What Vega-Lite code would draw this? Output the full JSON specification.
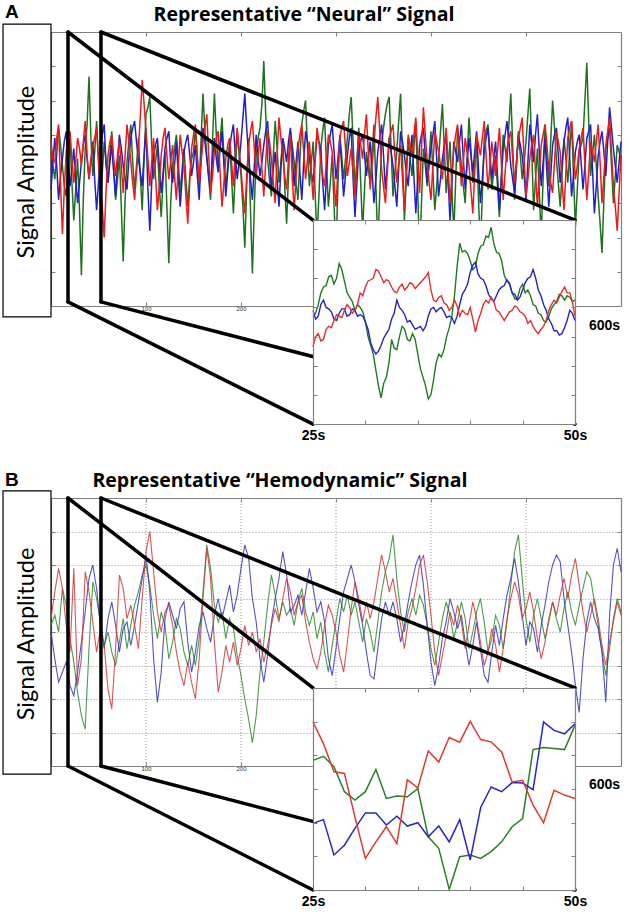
{
"$schema":"https://vega.github.io/schema/vega-lite/v6.json",
"width":630,"height":915,"autosize":"none","padding":0,"background":"white",
"config":{"view":{"stroke":null},"font":"Lato","axis":{"grid":false,"labels":false,"domainColor":"#808080","tickColor":"#808080","domainWidth":1.2,"tickWidth":1,"tickSize":-4,"labelFlush":false,"labelOverlap":false}},
"datasets":{
"mainA":[
{"t":0,"r":0.8,"g":0.5,"b":-0.6},{"t":4,"r":0.2,"g":-0.3,"b":0.9},{"t":8,"r":1.3,"g":1.2,"b":-0.9},{"t":12,"r":-1.9,"g":0.1,"b":0.3},{"t":16,"r":0.5,"g":-0.8,"b":1.1},{"t":20,"r":1.1,"g":0.9,"b":-0.5},{"t":24,"r":-0.4,"g":-1.5,"b":0.6},{"t":28,"r":0.9,"g":0.3,"b":-1.0},{"t":32,"r":0.1,"g":-3.1,"b":0.2},{"t":36,"r":1.4,"g":0.6,"b":1.0},
{"t":40,"r":-0.3,"g":2.7,"b":-0.3},{"t":44,"r":0.7,"g":-0.2,"b":0.8},{"t":48,"r":1.2,"g":1.4,"b":-1.2},{"t":52,"r":-0.6,"g":-1.0,"b":0.5},{"t":56,"r":-2.0,"g":0.8,"b":1.3},{"t":60,"r":0.4,"g":-0.4,"b":-0.4},{"t":64,"r":1.0,"g":1.1,"b":0.7},{"t":68,"r":-0.2,"g":-0.9,"b":-0.8},{"t":72,"r":0.8,"g":0.4,"b":1.0},{"t":76,"r":-0.7,"g":-2.7,"b":0.1},
{"t":80,"r":1.3,"g":0.2,"b":-0.6},{"t":84,"r":0.2,"g":1.3,"b":0.9},{"t":88,"r":-0.9,"g":-0.6,"b":1.4},{"t":92,"r":0.6,"g":0.9,"b":0.3},{"t":96,"r":2.6,"g":-1.2,"b":-0.5},{"t":100,"r":1.1,"g":1.6,"b":1.2},{"t":104,"r":-0.5,"g":2.1,"b":-1.8},{"t":108,"r":0.9,"g":-0.3,"b":0.4},{"t":112,"r":-1.2,"g":0.7,"b":0.9},{"t":116,"r":0.4,"g":-1.4,"b":-0.7},
{"t":120,"r":1.2,"g":0.5,"b":0.6},{"t":124,"r":-0.3,"g":-2.75,"b":1.1},{"t":128,"r":0.7,"g":0.1,"b":-0.4},{"t":132,"r":-0.9,"g":1.0,"b":0.8},{"t":136,"r":1.0,"g":-0.7,"b":-1.1},{"t":140,"r":0.1,"g":0.6,"b":0.5},{"t":144,"r":-1.6,"g":-1.1,"b":1.0},{"t":148,"r":0.6,"g":0.3,"b":-0.2},{"t":152,"r":1.3,"g":1.2,"b":0.7},{"t":156,"r":-0.4,"g":-0.5,"b":-0.9},
{"t":160,"r":0.8,"g":2.2,"b":1.2},{"t":164,"r":1.6,"g":0.4,"b":0.3},{"t":168,"r":-0.7,"g":-0.9,"b":-0.6},{"t":172,"r":0.5,"g":2.2,"b":0.9},{"t":176,"r":1.1,"g":0.0,"b":-0.1},{"t":180,"r":-1.1,"g":1.5,"b":1.1},{"t":184,"r":0.3,"g":-0.6,"b":-0.8},{"t":188,"r":0.9,"g":0.8,"b":0.6},{"t":192,"r":-0.5,"g":-1.3,"b":1.3},{"t":196,"r":1.2,"g":1.1,"b":-0.3},
{"t":200,"r":0.0,"g":-0.2,"b":0.8},{"t":204,"r":-1.3,"g":-2.3,"b":2.2},{"t":208,"r":0.7,"g":0.9,"b":0.4},{"t":212,"r":1.4,"g":-3.05,"b":-0.9},{"t":216,"r":-0.2,"g":0.4,"b":1.0},{"t":220,"r":0.9,"g":1.2,"b":-0.2},{"t":224,"r":-0.8,"g":3.15,"b":0.7},{"t":228,"r":1.1,"g":0.3,"b":1.4},{"t":232,"r":0.3,"g":-0.8,"b":-0.6},{"t":236,"r":-1.0,"g":1.4,"b":0.5},
{"t":240,"r":1.5,"g":-0.4,"b":-1.1},{"t":244,"r":0.4,"g":0.9,"b":0.9},{"t":248,"r":-0.6,"g":-1.6,"b":0.2},{"t":252,"r":1.0,"g":1.1,"b":1.2},{"t":256,"r":-1.2,"g":0.2,"b":-0.5},{"t":260,"r":0.6,"g":-0.9,"b":0.8},{"t":264,"r":1.3,"g":1.3,"b":-0.9},{"t":268,"r":-0.3,"g":2.0,"b":1.1},{"t":272,"r":0.8,"g":-0.5,"b":0.3},{"t":276,"r":-0.9,"g":0.8,"b":-0.4},
{"t":280,"r":1.2,"g":-2.0,"b":1.0},{"t":284,"r":0.2,"g":0.6,"b":0.6},{"t":288,"r":-0.5,"g":1.5,"b":-1.2},{"t":292,"r":1.0,"g":-1.1,"b":0.7},{"t":296,"r":0.5,"g":0.4,"b":1.3},{"t":300,"r":-1.1,"g":-2.4,"b":-0.3},{"t":304,"r":0.9,"g":1.0,"b":0.9},{"t":308,"r":1.4,"g":-0.3,"b":-0.8},{"t":312,"r":-0.2,"g":0.9,"b":0.4},{"t":316,"r":0.6,"g":2.1,"b":1.2},
{"t":320,"r":-0.8,"g":-0.6,"b":-1.4},{"t":324,"r":1.1,"g":1.2,"b":0.6},{"t":328,"r":0.3,"g":-1.8,"b":1.0},{"t":332,"r":1.6,"g":0.5,"b":-0.2},{"t":336,"r":-0.6,"g":-0.4,"b":0.8},{"t":340,"r":0.8,"g":1.3,"b":-1.0},{"t":344,"r":2.1,"g":-2.2,"b":0.5},{"t":348,"r":0.0,"g":0.7,"b":1.3},{"t":352,"r":-1.0,"g":1.6,"b":-0.6},{"t":356,"r":0.9,"g":2.1,"b":0.9},
{"t":360,"r":1.3,"g":-0.8,"b":0.1},{"t":364,"r":-0.4,"g":0.5,"b":-1.1},{"t":368,"r":0.7,"g":2.2,"b":1.1},{"t":372,"r":-1.2,"g":-1.5,"b":0.4},{"t":376,"r":1.0,"g":0.9,"b":-0.5},{"t":380,"r":0.4,"g":-0.2,"b":1.0},{"t":384,"r":1.5,"g":1.4,"b":-1.3},{"t":388,"r":-0.7,"g":-2.6,"b":0.7},{"t":392,"r":1.8,"g":0.6,"b":1.2},{"t":396,"r":0.2,"g":-0.5,"b":-0.4},
{"t":400,"r":-0.9,"g":1.1,"b":0.6},{"t":404,"r":1.1,"g":-1.2,"b":1.4},{"t":408,"r":0.5,"g":0.3,"b":-0.8},{"t":412,"r":-0.3,"g":1.9,"b":0.3},{"t":416,"r":1.2,"g":-0.7,"b":1.0},{"t":420,"r":-1.0,"g":0.8,"b":-1.5},{"t":424,"r":0.6,"g":-1.9,"b":0.8},{"t":428,"r":1.3,"g":1.2,"b":0.2},{"t":432,"r":-0.5,"g":0.1,"b":1.3},{"t":436,"r":0.9,"g":-1.0,"b":-0.6},
{"t":440,"r":0.1,"g":1.5,"b":0.9},{"t":444,"r":-1.3,"g":-0.4,"b":-0.1},{"t":448,"r":1.0,"g":0.7,"b":1.1},{"t":452,"r":0.4,"g":-2.3,"b":-1.0},{"t":456,"r":1.4,"g":0.9,"b":0.5},{"t":460,"r":-0.6,"g":1.3,"b":1.2},{"t":464,"r":0.8,"g":-0.6,"b":-0.3},{"t":468,"r":-0.2,"g":0.4,"b":0.8},{"t":472,"r":1.2,"g":-1.4,"b":-1.2},{"t":476,"r":-0.9,"g":1.0,"b":0.6},
{"t":480,"r":0.6,"g":0.2,"b":1.4},{"t":484,"r":1.1,"g":2.2,"b":0.1},{"t":488,"r":-0.4,"g":-0.9,"b":-0.7},{"t":492,"r":0.9,"g":1.1,"b":1.0},{"t":496,"r":1.5,"g":-0.3,"b":0.4},{"t":500,"r":-0.8,"g":0.8,"b":-0.9},{"t":504,"r":0.3,"g":2.35,"b":1.3},{"t":508,"r":1.0,"g":-1.2,"b":0.2},{"t":512,"r":-1.1,"g":0.6,"b":1.6},{"t":516,"r":0.7,"g":-2.0,"b":-0.5},
{"t":520,"r":1.3,"g":1.3,"b":0.9},{"t":524,"r":0.0,"g":-0.5,"b":-1.1},{"t":528,"r":-0.7,"g":2.0,"b":0.7},{"t":532,"r":1.1,"g":0.3,"b":1.2},{"t":536,"r":0.5,"g":-1.1,"b":-0.4},{"t":540,"r":-1.2,"g":0.9,"b":0.8},{"t":544,"r":0.9,"g":-0.4,"b":1.5},{"t":548,"r":1.4,"g":1.4,"b":-0.8},{"t":552,"r":-0.3,"g":-1.7,"b":0.5},{"t":556,"r":0.6,"g":0.5,"b":1.0},
{"t":560,"r":1.2,"g":0.9,"b":-0.6},{"t":564,"r":-0.9,"g":3.1,"b":0.9},{"t":568,"r":0.8,"g":-0.2,"b":1.3},{"t":572,"r":0.2,"g":1.0,"b":-1.3},{"t":576,"r":1.3,"g":-0.8,"b":0.4},{"t":580,"r":-1.0,"g":-2.45,"b":1.1},{"t":584,"r":0.7,"g":0.6,"b":-0.2},{"t":588,"r":1.5,"g":1.2,"b":1.8},{"t":592,"r":-0.5,"g":-1.0,"b":0.6},{"t":596,"r":-1.8,"g":0.7,"b":-0.4},
{"t":600,"r":0.4,"g":0.3,"b":0.8},
{"t":2,"r":0.3,"g":0.1,"b":0.2},{"t":6,"r":0.9,"g":0.4,"b":0.1},{"t":10,"r":-0.4,"g":0.7,"b":-0.2},{"t":14,"r":-0.6,"g":-0.5,"b":0.8},{"t":18,"r":0.9,"g":0.1,"b":0.2},{"t":22,"r":0.3,"g":-0.4,"b":0.0},{"t":26,"r":0.2,"g":-0.6,"b":-0.3},{"t":30,"r":0.6,"g":-1.2,"b":-0.4},{"t":34,"r":0.8,"g":-0.9,"b":0.7},{"t":38,"r":0.4,"g":1.3,"b":0.3},
{"t":42,"r":0.3,"g":0.9,"b":0.2},{"t":46,"r":0.9,"g":0.5,"b":-0.3},{"t":50,"r":0.2,"g":0.3,"b":-0.4},{"t":54,"r":-1.1,"g":-0.1,"b":1.0},{"t":58,"r":-0.6,"g":0.2,"b":0.1},{"t":62,"r":0.8,"g":0.4,"b":0.2},{"t":66,"r":0.3,"g":0.0,"b":-0.1},{"t":70,"r":0.4,"g":-0.3,"b":0.2},{"t":74,"r":0.1,"g":-1.1,"b":0.6},{"t":78,"r":0.4,"g":-0.9,"b":-0.3},
{"t":82,"r":0.8,"g":0.8,"b":0.3},{"t":86,"r":-0.4,"g":0.2,"b":1.2},{"t":90,"r":-0.1,"g":0.1,"b":0.8},{"t":94,"r":1.5,"g":-0.2,"b":-0.1},{"t":98,"r":1.9,"g":0.3,"b":0.4},{"t":102,"r":0.3,"g":1.8,"b":-0.6},{"t":106,"r":0.2,"g":0.7,"b":-0.4},{"t":110,"r":-0.2,"g":0.2,"b":0.7},{"t":114,"r":-0.5,"g":-0.5,"b":0.1},{"t":118,"r":0.9,"g":-0.3,"b":-0.1},
{"t":122,"r":0.4,"g":-1.1,"b":0.9},{"t":126,"r":0.2,"g":-1.0,"b":0.2},{"t":130,"r":-0.2,"g":0.6,"b":0.1},{"t":134,"r":0.1,"g":0.2,"b":-0.2},{"t":138,"r":0.5,"g":0.0,"b":-0.3},{"t":142,"r":-0.8,"g":-0.3,"b":0.8},{"t":146,"r":-0.4,"g":-0.2,"b":0.4},{"t":150,"r":1.0,"g":0.5,"b":0.2},{"t":154,"r":0.3,"g":0.4,"b":-0.2},{"t":158,"r":0.2,"g":0.9,"b":0.3},
{"t":162,"r":1.2,"g":1.1,"b":0.8},{"t":166,"r":0.4,"g":-0.3,"b":-0.2},{"t":170,"r":-0.2,"g":0.8,"b":0.3},{"t":174,"r":0.9,"g":1.0,"b":0.3},{"t":178,"r":-0.1,"g":0.8,"b":0.6},{"t":182,"r":-0.4,"g":0.4,"b":0.1},{"t":186,"r":0.7,"g":0.1,"b":-0.1},{"t":190,"r":0.2,"g":-0.2,"b":1.0},{"t":194,"r":0.5,"g":-0.1,"b":0.4},{"t":198,"r":0.6,"g":0.4,"b":0.2},
{"t":202,"r":-0.7,"g":-1.1,"b":1.5},{"t":206,"r":-0.2,"g":-0.5,"b":1.2},{"t":210,"r":1.1,"g":-1.2,"b":-0.3},{"t":214,"r":0.6,"g":-1.1,"b":0.1},{"t":218,"r":0.4,"g":0.9,"b":0.3},{"t":222,"r":0.0,"g":1.9,"b":0.2},{"t":226,"r":0.2,"g":1.6,"b":1.1},{"t":230,"r":0.8,"g":-0.3,"b":0.4},{"t":234,"r":-0.4,"g":0.4,"b":0.0},{"t":238,"r":0.4,"g":0.6,"b":-0.3},
{"t":242,"r":0.9,"g":0.2,"b":0.0},{"t":246,"r":-0.2,"g":-0.5,"b":0.6},{"t":250,"r":0.3,"g":-0.2,"b":0.8},{"t":254,"r":-0.3,"g":0.7,"b":0.4},{"t":258,"r":-0.2,"g":-0.4,"b":0.2},{"t":262,"r":1.0,"g":0.3,"b":-0.1},{"t":266,"r":0.5,"g":1.7,"b":0.2},{"t":270,"r":0.3,"g":0.6,"b":0.8},{"t":274,"r":-0.1,"g":0.2,"b":-0.1},{"t":278,"r":0.2,"g":-0.7,"b":0.3},
{"t":282,"r":0.8,"g":-0.8,"b":0.8},{"t":286,"r":-0.2,"g":1.1,"b":-0.4},{"t":290,"r":0.3,"g":0.1,"b":-0.2},{"t":294,"r":0.8,"g":-0.4,"b":1.0},{"t":298,"r":-0.4,"g":-1.1,"b":0.5},{"t":302,"r":0.0,"g":-0.5,"b":0.3},{"t":306,"r":1.2,"g":0.4,"b":0.1},{"t":310,"r":0.6,"g":0.3,"b":-0.2},{"t":314,"r":0.2,"g":1.6,"b":0.9},{"t":318,"r":-0.1,"g":0.8,"b":-0.3},
{"t":322,"r":0.2,"g":0.2,"b":-0.4},{"t":326,"r":0.7,"g":-0.4,"b":0.8},{"t":330,"r":1.0,"g":-0.6,"b":0.4},{"t":334,"r":0.5,"g":0.0,"b":0.3},{"t":338,"r":0.1,"g":0.5,"b":-0.1},{"t":342,"r":1.5,"g":-0.5,"b":-0.3},{"t":346,"r":1.1,"g":-0.8,"b":0.9},{"t":350,"r":-0.5,"g":1.2,"b":0.4},{"t":354,"r":-0.1,"g":1.9,"b":0.1},{"t":358,"r":1.1,"g":0.6,"b":0.5},
{"t":362,"r":0.4,"g":-0.1,"b":-0.5},{"t":366,"r":0.2,"g":1.4,"b":0.0},{"t":370,"r":-0.3,"g":0.3,"b":0.8},{"t":374,"r":-0.1,"g":-0.3,"b":-0.1},{"t":378,"r":0.7,"g":0.3,"b":0.3},{"t":382,"r":1.0,"g":0.6,"b":-0.2},{"t":386,"r":0.4,"g":-0.6,"b":-0.3},{"t":390,"r":0.6,"g":-1.0,"b":1.0},{"t":394,"r":1.0,"g":0.1,"b":0.4},{"t":398,"r":-0.4,"g":0.3,"b":0.1},
{"t":402,"r":0.1,"g":-0.1,"b":1.0},{"t":406,"r":0.8,"g":-0.5,"b":0.3},{"t":410,"r":0.1,"g":1.1,"b":-0.3},{"t":414,"r":0.5,"g":0.6,"b":0.7},{"t":418,"r":0.1,"g":0.0,"b":-0.3},{"t":422,"r":-0.2,"g":-0.6,"b":-0.4},{"t":426,"r":1.0,"g":-0.3,"b":0.5},{"t":430,"r":0.4,"g":0.7,"b":0.8},{"t":434,"r":0.2,"g":-0.5,"b":0.3},{"t":438,"r":0.5,"g":0.3,"b":0.2},
{"t":442,"r":-0.6,"g":0.6,"b":0.4},{"t":446,"r":-0.1,"g":0.1,"b":0.5},{"t":450,"r":0.7,"g":-0.9,"b":0.0},{"t":454,"r":0.9,"g":-0.8,"b":-0.3},{"t":458,"r":0.4,"g":1.1,"b":0.9},{"t":462,"r":0.1,"g":0.4,"b":0.4},{"t":466,"r":0.3,"g":-0.1,"b":0.3},{"t":470,"r":0.5,"g":-0.5,"b":-0.2},{"t":474,"r":0.2,"g":-0.2,"b":-0.3},{"t":478,"r":-0.1,"g":0.6,"b":1.0},
{"t":482,"r":0.9,"g":1.3,"b":0.8},{"t":486,"r":0.3,"g":0.7,"b":-0.3},{"t":490,"r":0.2,"g":0.1,"b":0.2},{"t":494,"r":1.2,"g":0.4,"b":0.7},{"t":498,"r":0.3,"g":0.2,"b":-0.2},{"t":502,"r":-0.3,"g":1.6,"b":0.2},{"t":506,"r":0.7,"g":0.6,"b":0.8},{"t":510,"r":-0.1,"g":-0.3,"b":1.0},{"t":514,"r":-0.2,"g":-0.7,"b":0.5},{"t":518,"r":1.0,"g":-0.3,"b":0.2},
{"t":522,"r":0.7,"g":0.4,"b":-0.1},{"t":526,"r":-0.4,"g":0.8,"b":-0.2},{"t":530,"r":0.2,"g":1.2,"b":1.0},{"t":534,"r":0.8,"g":-0.4,"b":0.4},{"t":538,"r":-0.4,"g":-0.1,"b":0.2},{"t":542,"r":-0.1,"g":0.3,"b":1.2},{"t":546,"r":1.2,"g":0.5,"b":0.3},{"t":550,"r":0.5,"g":-0.2,"b":-0.2},{"t":554,"r":0.1,"g":-0.6,"b":0.8},{"t":558,"r":0.9,"g":0.7,"b":0.2},
{"t":562,"r":0.2,"g":2.0,"b":0.1},{"t":566,"r":-0.1,"g":1.4,"b":1.1},{"t":570,"r":0.5,"g":0.4,"b":0.0},{"t":574,"r":0.8,"g":0.1,"b":-0.5},{"t":578,"r":0.2,"g":-1.6,"b":0.8},{"t":582,"r":-0.2,"g":-0.9,"b":0.5},{"t":586,"r":1.1,"g":0.9,"b":0.8},{"t":590,"r":0.5,"g":0.1,"b":1.2},{"t":594,"r":-1.1,"g":-0.2,"b":0.1},{"t":598,"r":-0.7,"g":0.5,"b":0.2}],
"mainB":[
{"t":0,"r":0.4,"g":0.2,"b":0.0},{"t":4,"r":1.2,"g":0.5,"b":-0.8},{"t":8,"r":1.9,"g":0.0,"b":-1.5},{"t":12,"r":1.3,"g":1.3,"b":-1.2},{"t":16,"r":0.2,"g":0.8,"b":-0.9},{"t":20,"r":-0.6,"g":-0.2,"b":-1.6},{"t":24,"r":1.9,"g":-0.9,"b":-1.9},{"t":28,"r":-1.6,"g":-1.8,"b":-1.2},{"t":32,"r":-0.8,"g":-2.5,"b":-0.3},{"t":36,"r":1.8,"g":-2.9,"b":0.6},
{"t":40,"r":1.2,"g":-0.5,"b":1.6},{"t":44,"r":0.3,"g":1.5,"b":2.0},{"t":48,"r":-0.6,"g":1.0,"b":1.3},{"t":52,"r":0.1,"g":0.3,"b":0.2},{"t":56,"r":-0.4,"g":-0.4,"b":-0.5},{"t":60,"r":-1.7,"g":0.0,"b":0.4},{"t":64,"r":-2.3,"g":-0.6,"b":0.9},{"t":68,"r":-0.5,"g":-1.0,"b":0.2},{"t":72,"r":1.7,"g":-0.3,"b":-0.6},{"t":76,"r":1.3,"g":0.4,"b":0.1},
{"t":80,"r":0.4,"g":-0.5,"b":0.3},{"t":84,"r":0.8,"g":0.2,"b":-0.4},{"t":88,"r":0.2,"g":0.8,"b":0.2},{"t":92,"r":-0.5,"g":1.2,"b":0.9},{"t":96,"r":1.0,"g":1.7,"b":1.6},{"t":100,"r":2.4,"g":2.0,"b":2.3},{"t":104,"r":3.0,"g":1.4,"b":1.2},{"t":108,"r":1.8,"g":0.5,"b":-0.8},{"t":112,"r":0.6,"g":-0.2,"b":-2.1},{"t":116,"r":0.0,"g":0.6,"b":-1.2},
{"t":120,"r":0.6,"g":0.2,"b":0.4},{"t":124,"r":0.8,"g":-0.8,"b":0.9},{"t":128,"r":0.2,"g":-0.3,"b":0.5},{"t":132,"r":-0.6,"g":0.4,"b":0.1},{"t":136,"r":-1.2,"g":0.1,"b":0.7},{"t":140,"r":-1.6,"g":-0.6,"b":0.9},{"t":144,"r":-0.9,"g":-1.0,"b":-0.3},{"t":148,"r":-1.5,"g":-0.4,"b":-1.2},{"t":152,"r":-2.0,"g":-1.0,"b":-0.6},{"t":156,"r":-0.8,"g":-0.2,"b":0.2},
{"t":160,"r":1.0,"g":1.2,"b":0.6},{"t":164,"r":2.5,"g":2.6,"b":0.1},{"t":168,"r":1.6,"g":1.9,"b":-0.3},{"t":172,"r":-0.3,"g":0.8,"b":0.5},{"t":176,"r":-1.8,"g":0.3,"b":1.0},{"t":180,"r":-1.2,"g":0.6,"b":0.4},{"t":184,"r":-0.4,"g":-0.2,"b":0.9},{"t":188,"r":-0.9,"g":0.4,"b":1.4},{"t":192,"r":-0.3,"g":0.1,"b":0.6},{"t":196,"r":-1.0,"g":-0.7,"b":1.1},
{"t":200,"r":-0.5,"g":-1.3,"b":1.9},{"t":204,"r":0.2,"g":-2.0,"b":2.6},{"t":208,"r":-0.4,"g":-2.6,"b":2.2},{"t":212,"r":0.0,"g":-3.3,"b":1.0},{"t":216,"r":-0.6,"g":-2.5,"b":0.3},{"t":220,"r":-0.2,"g":-1.2,"b":-0.8},{"t":224,"r":-0.9,"g":-0.3,"b":-1.5},{"t":228,"r":-0.4,"g":0.8,"b":-0.7},{"t":232,"r":0.2,"g":1.7,"b":0.3},{"t":236,"r":0.7,"g":1.1,"b":1.0},
{"t":240,"r":0.3,"g":0.4,"b":1.6},{"t":244,"r":1.0,"g":0.9,"b":2.4},{"t":248,"r":1.6,"g":0.5,"b":1.7},{"t":252,"r":1.2,"g":0.7,"b":0.6},{"t":256,"r":0.5,"g":0.2,"b":0.8},{"t":260,"r":0.9,"g":0.9,"b":1.1},{"t":264,"r":1.1,"g":1.3,"b":0.5},{"t":268,"r":0.3,"g":0.6,"b":1.2},{"t":272,"r":-0.3,"g":0.2,"b":1.9},{"t":276,"r":-0.8,"g":0.6,"b":1.3},
{"t":280,"r":-1.1,"g":-0.2,"b":0.6},{"t":284,"r":-0.6,"g":0.3,"b":0.9},{"t":288,"r":0.2,"g":-0.6,"b":0.3},{"t":292,"r":0.8,"g":-1.2,"b":-0.8},{"t":296,"r":0.5,"g":-0.4,"b":-1.3},{"t":300,"r":0.0,"g":0.3,"b":-0.5},{"t":304,"r":-0.7,"g":1.0,"b":0.4},{"t":308,"r":-1.2,"g":0.6,"b":1.2},{"t":312,"r":-0.3,"g":1.1,"b":1.6},{"t":316,"r":0.7,"g":0.5,"b":2.0},
{"t":320,"r":1.5,"g":0.9,"b":1.5},{"t":324,"r":1.0,"g":0.3,"b":0.8},{"t":328,"r":0.3,"g":-0.3,"b":0.2},{"t":332,"r":0.9,"g":0.4,"b":-0.6},{"t":336,"r":0.4,"g":0.0,"b":-1.3},{"t":340,"r":0.9,"g":-0.6,"b":-1.4},{"t":344,"r":1.6,"g":0.3,"b":-0.5},{"t":348,"r":2.3,"g":1.2,"b":0.4},{"t":352,"r":1.8,"g":1.8,"b":0.9},{"t":356,"r":1.2,"g":2.2,"b":0.5},
{"t":360,"r":1.6,"g":2.9,"b":0.9},{"t":364,"r":0.9,"g":1.6,"b":0.4},{"t":368,"r":0.2,"g":0.6,"b":-0.3},{"t":372,"r":-0.5,"g":0.0,"b":0.2},{"t":376,"r":0.3,"g":0.6,"b":0.9},{"t":380,"r":0.7,"g":1.0,"b":1.5},{"t":384,"r":1.3,"g":0.5,"b":2.0},{"t":388,"r":2.0,"g":1.1,"b":2.3},{"t":392,"r":2.3,"g":0.8,"b":1.4},{"t":396,"r":1.5,"g":0.2,"b":0.2},
{"t":400,"r":0.5,"g":-0.5,"b":-0.9},{"t":404,"r":-0.6,"g":-1.0,"b":-1.6},{"t":408,"r":-1.3,"g":-0.3,"b":-1.0},{"t":412,"r":-0.7,"g":0.4,"b":-0.2},{"t":416,"r":-0.1,"g":0.9,"b":0.3},{"t":420,"r":0.6,"g":0.5,"b":1.0},{"t":424,"r":0.2,"g":-0.2,"b":0.6},{"t":428,"r":0.8,"g":0.3,"b":0.1},{"t":432,"r":0.3,"g":0.9,"b":0.5},{"t":436,"r":-0.5,"g":0.4,"b":-0.3},
{"t":440,"r":0.2,"g":-0.5,"b":-1.0},{"t":444,"r":0.9,"g":0.0,"b":-0.4},{"t":448,"r":0.4,"g":0.6,"b":0.3},{"t":452,"r":-0.3,"g":1.0,"b":-0.5},{"t":456,"r":-1.0,"g":0.3,"b":-1.3},{"t":460,"r":-0.6,"g":-0.6,"b":-1.5},{"t":464,"r":0.1,"g":-0.2,"b":-0.6},{"t":468,"r":-0.4,"g":0.5,"b":0.2},{"t":472,"r":-1.2,"g":0.2,"b":-0.4},{"t":476,"r":-0.5,"g":-0.5,"b":0.4},
{"t":480,"r":0.4,"g":0.3,"b":1.1},{"t":484,"r":1.0,"g":1.4,"b":1.6},{"t":488,"r":1.5,"g":2.4,"b":2.2},{"t":492,"r":1.1,"g":2.9,"b":1.5},{"t":496,"r":0.4,"g":1.6,"b":0.5},{"t":500,"r":0.7,"g":0.4,"b":-0.4},{"t":504,"r":1.2,"g":-0.3,"b":0.3},{"t":508,"r":0.6,"g":0.5,"b":0.1},{"t":512,"r":-0.2,"g":1.0,"b":-0.6},{"t":516,"r":-0.8,"g":0.4,"b":0.2},
{"t":520,"r":-0.3,"g":-0.2,"b":0.8},{"t":524,"r":0.4,"g":0.3,"b":1.5},{"t":528,"r":0.9,"g":0.9,"b":2.0},{"t":532,"r":0.5,"g":0.4,"b":2.3},{"t":536,"r":1.1,"g":0.0,"b":2.1},{"t":540,"r":1.6,"g":0.7,"b":1.0},{"t":544,"r":1.0,"g":1.2,"b":0.2},{"t":548,"r":1.7,"g":0.6,"b":-0.6},{"t":552,"r":2.2,"g":0.2,"b":-1.6},{"t":556,"r":1.4,"g":0.8,"b":-2.4},
{"t":560,"r":0.6,"g":1.3,"b":-0.8},{"t":564,"r":0.0,"g":1.8,"b":0.3},{"t":568,"r":0.5,"g":1.6,"b":0.9},{"t":572,"r":1.0,"g":0.9,"b":0.4},{"t":576,"r":0.4,"g":0.2,"b":0.1},{"t":580,"r":-0.4,"g":-0.6,"b":-0.6},{"t":584,"r":-1.0,"g":-1.3,"b":-2.1},{"t":588,"r":-0.3,"g":-0.5,"b":0.5},{"t":592,"r":0.3,"g":0.4,"b":2.0},{"t":596,"r":0.9,"g":1.0,"b":2.5},
{"t":600,"r":0.5,"g":0.6,"b":1.8}],
"insetA":[
{"t":25,"r":2.65,"g":3.68,"b":3.9},{"t":25.5,"r":3.1,"g":4.1,"b":3.7},{"t":26,"r":2.9,"g":4.7,"b":4.25},{"t":26.5,"r":3.35,"g":5.05,"b":3.95},{"t":27,"r":3.55,"g":4.8,"b":3.6},{"t":27.5,"r":3.7,"g":5.5,"b":3.8},{"t":28,"r":3.9,"g":4.9,"b":3.95},{"t":28.5,"r":4.0,"g":4.35,"b":3.75},{"t":29,"r":3.9,"g":3.9,"b":3.9},{"t":29.5,"r":4.5,"g":4.0,"b":3.75},
{"t":30,"r":4.7,"g":3.5,"b":3.5},{"t":30.5,"r":4.95,"g":2.7,"b":2.8},{"t":31,"r":5.3,"g":1.85,"b":2.4},{"t":31.5,"r":5.05,"g":0.9,"b":2.7},{"t":32,"r":4.95,"g":1.6,"b":3.1},{"t":32.5,"r":4.7,"g":2.9,"b":3.6},{"t":33,"r":4.5,"g":2.55,"b":4.25},{"t":33.5,"r":4.8,"g":3.35,"b":3.9},{"t":34,"r":4.7,"g":2.9,"b":3.5},{"t":34.5,"r":4.8,"g":3.1,"b":3.4},
{"t":35,"r":4.75,"g":2.4,"b":3.3},{"t":35.5,"r":4.95,"g":1.6,"b":3.2},{"t":36,"r":5.2,"g":0.86,"b":3.7},{"t":36.5,"r":4.25,"g":1.5,"b":4.0},{"t":37,"r":4.35,"g":2.4,"b":3.95},{"t":37.5,"r":4.15,"g":2.55,"b":3.85},{"t":38,"r":3.9,"g":3.3,"b":3.7},{"t":38.5,"r":4.25,"g":4.4,"b":3.45},{"t":39,"r":3.7,"g":6.2,"b":4.1},{"t":39.5,"r":3.8,"g":5.95,"b":4.6},
{"t":40,"r":4.0,"g":5.6,"b":5.2},{"t":40.5,"r":3.15,"g":5.4,"b":5.55},{"t":41,"r":3.8,"g":6.1,"b":5.0},{"t":41.5,"r":4.25,"g":6.45,"b":4.75},{"t":42,"r":4.35,"g":6.75,"b":4.3},{"t":42.5,"r":3.9,"g":5.9,"b":4.4},{"t":43,"r":3.7,"g":5.6,"b":4.7},{"t":43.5,"r":3.7,"g":4.9,"b":4.95},{"t":44,"r":3.9,"g":4.5,"b":4.5},{"t":44.5,"r":4.0,"g":4.3,"b":4.25},
{"t":45,"r":3.8,"g":4.8,"b":4.6},{"t":45.5,"r":3.45,"g":4.6,"b":5.0},{"t":46,"r":3.35,"g":4.1,"b":5.3},{"t":46.5,"r":3.1,"g":3.8,"b":4.6},{"t":47,"r":3.35,"g":3.55,"b":4.1},{"t":47.5,"r":3.9,"g":3.7,"b":3.6},{"t":48,"r":4.25,"g":4.1,"b":3.2},{"t":48.5,"r":4.35,"g":4.45,"b":3.05},{"t":49,"r":4.7,"g":4.25,"b":3.3},{"t":49.5,"r":4.5,"g":4.35,"b":3.9},
{"t":50,"r":3.7,"g":4.25,"b":3.55},
{"t":25.25,"r":3.0,"g":3.8,"b":3.6},{"t":25.75,"r":2.85,"g":4.5,"b":4.1},{"t":26.25,"r":3.25,"g":4.75,"b":4.0},{"t":26.75,"r":3.3,"g":5.1,"b":3.85},{"t":27.25,"r":3.75,"g":5.0,"b":3.55},{"t":27.75,"r":3.65,"g":5.3,"b":3.95},{"t":28.25,"r":4.1,"g":4.5,"b":3.7},{"t":28.75,"r":3.8,"g":4.2,"b":3.95},{"t":29.25,"r":4.1,"g":4.1,"b":3.7},{"t":29.75,"r":4.4,"g":3.85,"b":3.7},
{"t":30.25,"r":4.9,"g":3.0,"b":3.25},{"t":30.75,"r":5.0,"g":2.4,"b":2.55},{"t":31.25,"r":5.25,"g":1.3,"b":2.5},{"t":31.75,"r":4.85,"g":1.4,"b":2.95},{"t":32.25,"r":4.9,"g":2.1,"b":3.25},{"t":32.75,"r":4.55,"g":2.6,"b":3.8},{"t":33.25,"r":4.7,"g":3.0,"b":4.0},{"t":33.75,"r":4.6,"g":3.25,"b":3.75},{"t":34.25,"r":4.85,"g":2.85,"b":3.55},{"t":34.75,"r":4.65,"g":2.9,"b":3.25},
{"t":35.25,"r":4.85,"g":1.9,"b":3.35},{"t":35.75,"r":5.05,"g":1.3,"b":3.35},{"t":36.25,"r":4.6,"g":1.0,"b":3.95},{"t":36.75,"r":4.2,"g":2.1,"b":3.85},{"t":37.25,"r":4.4,"g":2.3,"b":4.0},{"t":37.75,"r":4.1,"g":3.0,"b":3.65},{"t":38.25,"r":4.0,"g":3.7,"b":3.65},{"t":38.75,"r":4.05,"g":5.4,"b":3.7},{"t":39.25,"r":3.9,"g":5.9,"b":4.45},{"t":39.75,"r":3.75,"g":5.85,"b":4.8},
{"t":40.25,"r":3.6,"g":5.3,"b":5.45},{"t":40.75,"r":3.55,"g":5.85,"b":5.15},{"t":41.25,"r":4.1,"g":6.15,"b":4.95},{"t":41.75,"r":4.15,"g":6.4,"b":4.45},{"t":42.25,"r":4.2,"g":6.2,"b":4.2},{"t":42.75,"r":3.85,"g":5.85,"b":4.6},{"t":43.25,"r":3.55,"g":5.1,"b":4.75},{"t":43.75,"r":3.85,"g":4.85,"b":4.8},{"t":44.25,"r":4.05,"g":4.3,"b":4.45},{"t":44.75,"r":3.85,"g":4.65,"b":4.35},
{"t":45.25,"r":3.7,"g":4.5,"b":4.85},{"t":45.75,"r":3.55,"g":4.4,"b":5.05},{"t":46.25,"r":3.2,"g":4.05,"b":5.0},{"t":46.75,"r":3.25,"g":3.75,"b":4.4},{"t":47.25,"r":3.55,"g":3.5,"b":3.9},{"t":47.75,"r":4.1,"g":3.95,"b":3.45},{"t":48.25,"r":4.15,"g":4.2,"b":3.2},{"t":48.75,"r":4.55,"g":4.4,"b":3.1},{"t":49.25,"r":4.5,"g":4.4,"b":3.55},{"t":49.75,"r":4.2,"g":4.2,"b":3.8}],
"insetB":[
{"t":25,"r":4.99,"g":3.85,"b":1.98},{"t":26,"r":4.35,"g":3.97,"b":2.09},{"t":27,"r":3.51,"g":3.66,"b":1.04},{"t":28,"r":3.46,"g":2.92,"b":1.33},{"t":29,"r":2.17,"g":2.67,"b":1.83},{"t":30,"r":0.94,"g":2.92,"b":2.29},{"t":31,"r":1.43,"g":3.58,"b":2.29},{"t":32,"r":1.88,"g":2.72,"b":1.93},{"t":33,"r":1.38,"g":2.79,"b":2.19},{"t":34,"r":3.28,"g":2.77,"b":1.9},
{"t":35,"r":3.03,"g":3.01,"b":2.0},{"t":36,"r":4.13,"g":1.58,"b":1.58},{"t":37,"r":3.8,"g":1.24,"b":1.9},{"t":38,"r":4.53,"g":0.02,"b":1.43},{"t":39,"r":4.39,"g":0.99,"b":2.09},{"t":40,"r":5.01,"g":1.04,"b":0.89},{"t":41,"r":4.47,"g":0.94,"b":2.45},{"t":42,"r":4.4,"g":1.14,"b":3.06},{"t":43,"r":4.1,"g":1.43,"b":2.92},{"t":44,"r":3.21,"g":1.88,"b":3.19},
{"t":45,"r":3.26,"g":2.12,"b":3.18},{"t":46,"r":2.52,"g":4.17,"b":2.98},{"t":47,"r":2.0,"g":4.23,"b":4.99},{"t":48,"r":2.96,"g":4.2,"b":4.74},{"t":49,"r":2.82,"g":4.17,"b":4.64},{"t":50,"r":2.72,"g":4.89,"b":4.94}],
"gridX":[{"gx":100},{"gx":200},{"gx":300},{"gx":400},{"gx":500}]
},
"layer":[
{"layer":[
 {"data":{"values":[{}]},"mark":{"type":"rect","fill":"white","stroke":"black","strokeWidth":1.2},"encoding":{"x":{"datum":-50.5,"type":"quantitative","scale":{"domain":[0,600],"range":[51,621],"nice":false,"zero":false},"axis":null},"x2":{"datum":0},"y":{"datum":4.23,"type":"quantitative","scale":{"domain":[-4,4],"range":[306,32],"nice":false,"zero":false},"axis":null},"y2":{"datum":-4.32}}},
 {"data":{"values":[{"label":"Signal Amplitude"}]},"mark":{"type":"text","font":"Lato","fontSize":23.5,"angle":270,"align":"center","baseline":"middle","color":"black"},"encoding":{"text":{"field":"label"},"x":{"datum":-25.3,"type":"quantitative","scale":{"domain":[0,600],"range":[51,621],"nice":false,"zero":false},"axis":null},"y":{"datum":-0.09,"type":"quantitative","scale":{"domain":[-4,4],"range":[306,32],"nice":false,"zero":false},"axis":null}}},
 {"data":{"values":[{"label":"A"}]},"mark":{"type":"text","font":"Liberation Sans","fontWeight":"bold","fontSize":19,"align":"left","baseline":"alphabetic","color":"black"},"encoding":{"text":{"field":"label"},"x":{"datum":-48.4,"type":"quantitative","scale":{"domain":[0,600],"range":[51,621],"nice":false,"zero":false},"axis":null},"y":{"datum":4.41,"type":"quantitative","scale":{"domain":[-4,4],"range":[306,32],"nice":false,"zero":false},"axis":null}}},
 {"data":{"values":[{"label":"Representative “Neural” Signal"}]},"mark":{"type":"text","font":"Open Sans","fontWeight":"bold","fontSize":19.5,"align":"center","baseline":"middle","color":"black"},"encoding":{"text":{"field":"label"},"x":{"datum":266.3,"type":"quantitative","scale":{"domain":[0,600],"range":[51,621],"nice":false,"zero":false},"axis":null},"y":{"datum":4.51,"type":"quantitative","scale":{"domain":[-4,4],"range":[306,32],"nice":false,"zero":false},"axis":null}}},
 {"data":{"values":[{"label":"600s"}]},"mark":{"type":"text","font":"Liberation Sans","fontWeight":"bold","fontSize":14,"align":"right","baseline":"middle","color":"black"},"encoding":{"text":{"field":"label"},"x":{"datum":599,"type":"quantitative","scale":{"domain":[0,600],"range":[51,621],"nice":false,"zero":false},"axis":null},"y":{"datum":-4.58,"type":"quantitative","scale":{"domain":[-4,4],"range":[306,32],"nice":false,"zero":false},"axis":null}}},
 {"data":{"name":"mainA"},"mark":{"type":"line","color":"#1f701f","strokeWidth":1.5},"encoding":{"x":{"field":"t","type":"quantitative","scale":{"domain":[0,600],"range":[51,621],"nice":false,"zero":false},"axis":{"orient":"bottom","offset":-609,"title":null,"values":[100,200,300,400,500],"labels":true,"labelFontSize":6,"labelColor":"#333333","labelFont":"Liberation Sans","labelPadding":3}},"y":{"field":"g","type":"quantitative","scale":{"domain":[-4,4],"range":[306,32],"nice":false,"zero":false},"axis":{"orient":"left","offset":-51,"title":null,"values":[-3,-2,-1,0,1,2,3]}}}},
 {"data":{"name":"mainA"},"mark":{"type":"line","color":"#2020c8","strokeWidth":1.5},"encoding":{"x":{"field":"t","type":"quantitative","scale":{"domain":[0,600],"range":[51,621],"nice":false,"zero":false},"axis":null},"y":{"field":"b","type":"quantitative","scale":{"domain":[-4,4],"range":[306,32],"nice":false,"zero":false},"axis":null}}},
 {"data":{"name":"mainA"},"mark":{"type":"line","color":"#f01818","strokeWidth":1.5},"encoding":{"x":{"field":"t","type":"quantitative","scale":{"domain":[0,600],"range":[51,621],"nice":false,"zero":false},"axis":null},"y":{"field":"r","type":"quantitative","scale":{"domain":[-4,4],"range":[306,32],"nice":false,"zero":false},"axis":null}}},
 {"data":{"values":[{"t0":17.9,"a0":4,"t1":17.9,"a1":-3.88},{"t0":52.6,"a0":4,"t1":52.6,"a1":-3.88},{"t0":17.9,"a0":4,"t1":275.8,"a1":-1.49},{"t0":52.6,"a0":4,"t1":551.6,"a1":-1.49},{"t0":17.9,"a0":-3.88,"t1":275.8,"a1":-7.45},{"t0":52.6,"a0":-3.88,"t1":551.6,"a1":-7.45}]},"mark":{"type":"rule","color":"black","strokeWidth":3.5,"strokeCap":"round"},"encoding":{"x":{"field":"t0","type":"quantitative","scale":{"domain":[0,600],"range":[51,621],"nice":false,"zero":false},"axis":{"orient":"top","offset":-32,"title":null,"values":[100,200,300,400,500]}},"x2":{"field":"t1"},"y":{"field":"a0","type":"quantitative","scale":{"domain":[-4,4],"range":[306,32],"nice":false,"zero":false},"axis":{"orient":"right","offset":-9,"title":null,"values":[-3,-2,-1,0,1,2,3]}},"y2":{"field":"a1"}}}
],"resolve":{"axis":{"x":"independent","y":"independent"}}},
{"layer":[
 {"data":{"values":[{}]},"mark":{"type":"rect","fill":"white"},"encoding":{"x":{"datum":25,"type":"quantitative","scale":{"domain":[25,50],"range":[313,575],"nice":false,"zero":false},"axis":{"orient":"bottom","offset":-491,"title":null,"zindex":1,"values":[25,30,35,40,45,50],"labels":true,"labelExpr":"datum.value == 25 ? '25s' : (datum.value == 50 ? '50s' : '')","labelFontSize":14,"labelFontWeight":"bold","labelColor":"black","labelFont":"Liberation Sans","labelPadding":8}},"x2":{"datum":50},"y":{"datum":0,"type":"quantitative","scale":{"domain":[0,7],"range":[424,220],"nice":false,"zero":false},"axis":{"orient":"left","offset":-313,"title":null,"zindex":1,"values":[1,2,3,4,5,6]}},"y2":{"datum":7}}},
 {"data":{"name":"insetA"},"mark":{"type":"line","color":"#1f7a1f","strokeWidth":1.4},"encoding":{"x":{"field":"t","type":"quantitative","scale":{"domain":[25,50],"range":[313,575],"nice":false,"zero":false},"axis":null},"y":{"field":"g","type":"quantitative","scale":{"domain":[0,7],"range":[424,220],"nice":false,"zero":false},"axis":null}}},
 {"data":{"name":"insetA"},"mark":{"type":"line","color":"#2323c8","strokeWidth":1.4},"encoding":{"x":{"field":"t","type":"quantitative","scale":{"domain":[25,50],"range":[313,575],"nice":false,"zero":false},"axis":null},"y":{"field":"b","type":"quantitative","scale":{"domain":[0,7],"range":[424,220],"nice":false,"zero":false},"axis":null}}},
 {"data":{"name":"insetA"},"mark":{"type":"line","color":"#e03030","strokeWidth":1.4},"encoding":{"x":{"field":"t","type":"quantitative","scale":{"domain":[25,50],"range":[313,575],"nice":false,"zero":false},"axis":{"orient":"top","offset":-220,"title":null,"zindex":1,"values":[30,35,40,45]}},"y":{"field":"r","type":"quantitative","scale":{"domain":[0,7],"range":[424,220],"nice":false,"zero":false},"axis":{"orient":"right","offset":-55,"title":null,"zindex":1,"values":[1,2,3,4,5,6]}}}}
],"resolve":{"axis":{"x":"independent","y":"independent"}}},
{"layer":[
 {"data":{"values":[{}]},"mark":{"type":"rect","fill":"white","stroke":"black","strokeWidth":1.2},"encoding":{"x":{"datum":-50.5,"type":"quantitative","scale":{"domain":[0,600],"range":[51,621],"nice":false,"zero":false},"axis":null},"x2":{"datum":0},"y":{"datum":4.21,"type":"quantitative","scale":{"domain":[-4,4],"range":[766,498],"nice":false,"zero":false},"axis":null},"y2":{"datum":-4.24}}},
 {"data":{"values":[{"label":"Signal Amplitude"}]},"mark":{"type":"text","font":"Lato","fontSize":23.5,"angle":270,"align":"center","baseline":"middle","color":"black"},"encoding":{"text":{"field":"label"},"x":{"datum":-25.3,"type":"quantitative","scale":{"domain":[0,600],"range":[51,621],"nice":false,"zero":false},"axis":null},"y":{"datum":-0.06,"type":"quantitative","scale":{"domain":[-4,4],"range":[766,498],"nice":false,"zero":false},"axis":null}}},
 {"data":{"values":[{"label":"B"}]},"mark":{"type":"text","font":"Liberation Sans","fontWeight":"bold","fontSize":19,"align":"left","baseline":"alphabetic","color":"black"},"encoding":{"text":{"field":"label"},"x":{"datum":-48.4,"type":"quantitative","scale":{"domain":[0,600],"range":[51,621],"nice":false,"zero":false},"axis":null},"y":{"datum":4.36,"type":"quantitative","scale":{"domain":[-4,4],"range":[766,498],"nice":false,"zero":false},"axis":null}}},
 {"data":{"values":[{"label":"Representative “Hemodynamic” Signal"}]},"mark":{"type":"text","font":"Open Sans","fontWeight":"bold","fontSize":19.5,"align":"center","baseline":"middle","color":"black"},"encoding":{"text":{"field":"label"},"x":{"datum":241,"type":"quantitative","scale":{"domain":[0,600],"range":[51,621],"nice":false,"zero":false},"axis":null},"y":{"datum":4.51,"type":"quantitative","scale":{"domain":[-4,4],"range":[766,498],"nice":false,"zero":false},"axis":null}}},
 {"data":{"values":[{"label":"600s"}]},"mark":{"type":"text","font":"Liberation Sans","fontWeight":"bold","fontSize":14,"align":"right","baseline":"middle","color":"black"},"encoding":{"text":{"field":"label"},"x":{"datum":599,"type":"quantitative","scale":{"domain":[0,600],"range":[51,621],"nice":false,"zero":false},"axis":null},"y":{"datum":-4.56,"type":"quantitative","scale":{"domain":[-4,4],"range":[766,498],"nice":false,"zero":false},"axis":null}}},
 {"data":{"name":"gridX"},"mark":{"type":"rule","color":"#9a9a9a","strokeWidth":1,"strokeDash":[1,2]},"encoding":{"x":{"field":"gx","type":"quantitative","scale":{"domain":[0,600],"range":[51,621],"nice":false,"zero":false},"axis":null},"y":{"datum":-4,"type":"quantitative","scale":{"domain":[-4,4],"range":[766,498],"nice":false,"zero":false},"axis":null},"y2":{"datum":4}}},
 {"data":{"name":"mainB"},"mark":{"type":"line","color":"#2e8b2e","strokeWidth":1.1,"opacity":0.85},"encoding":{"x":{"field":"t","type":"quantitative","scale":{"domain":[0,600],"range":[51,621],"nice":false,"zero":false},"axis":{"orient":"bottom","offset":-149,"title":null,"values":[100,200,300,400,500],"labels":true,"labelFontSize":6,"labelColor":"#333333","labelFont":"Liberation Sans","labelPadding":3}},"y":{"field":"g","type":"quantitative","scale":{"domain":[-4,4],"range":[766,498],"nice":false,"zero":false},"axis":{"orient":"left","offset":-51,"title":null,"values":[-3,-2,-1,0,1,2,3],"grid":true,"gridDash":[1,2],"gridColor":"#9a9a9a"}}}},
 {"data":{"name":"mainB"},"mark":{"type":"line","color":"#3535bb","strokeWidth":1.1,"opacity":0.85},"encoding":{"x":{"field":"t","type":"quantitative","scale":{"domain":[0,600],"range":[51,621],"nice":false,"zero":false},"axis":null},"y":{"field":"b","type":"quantitative","scale":{"domain":[-4,4],"range":[766,498],"nice":false,"zero":false},"axis":null}}},
 {"data":{"name":"mainB"},"mark":{"type":"line","color":"#cc3838","strokeWidth":1.1,"opacity":0.85},"encoding":{"x":{"field":"t","type":"quantitative","scale":{"domain":[0,600],"range":[51,621],"nice":false,"zero":false},"axis":null},"y":{"field":"r","type":"quantitative","scale":{"domain":[-4,4],"range":[766,498],"nice":false,"zero":false},"axis":null}}},
 {"data":{"values":[{"t0":17.9,"a0":4,"t1":17.9,"a1":-4.0},{"t0":52.6,"a0":4,"t1":52.6,"a1":-4.0},{"t0":17.9,"a0":4,"t1":275.8,"a1":-1.67},{"t0":52.6,"a0":4,"t1":551.6,"a1":-1.67},{"t0":17.9,"a0":-4.0,"t1":275.8,"a1":-7.7},{"t0":52.6,"a0":-4.0,"t1":551.6,"a1":-7.7}]},"mark":{"type":"rule","color":"black","strokeWidth":3.5,"strokeCap":"round"},"encoding":{"x":{"field":"t0","type":"quantitative","scale":{"domain":[0,600],"range":[51,621],"nice":false,"zero":false},"axis":{"orient":"top","offset":-498,"title":null,"values":[100,200,300,400,500]}},"x2":{"field":"t1"},"y":{"field":"a0","type":"quantitative","scale":{"domain":[-4,4],"range":[766,498],"nice":false,"zero":false},"axis":{"orient":"right","offset":-9,"title":null,"values":[-3,-2,-1,0,1,2,3]}},"y2":{"field":"a1"}}}
],"resolve":{"axis":{"x":"independent","y":"independent"}}},
{"layer":[
 {"data":{"values":[{}]},"mark":{"type":"rect","fill":"white"},"encoding":{"x":{"datum":25,"type":"quantitative","scale":{"domain":[25,50],"range":[313,575],"nice":false,"zero":false},"axis":{"orient":"bottom","offset":-25,"title":null,"zindex":1,"values":[25,30,35,40,45,50],"labels":true,"labelExpr":"datum.value == 25 ? '25s' : (datum.value == 50 ? '50s' : '')","labelFontSize":14,"labelFontWeight":"bold","labelColor":"black","labelFont":"Liberation Sans","labelPadding":8}},"x2":{"datum":50},"y":{"datum":0,"type":"quantitative","scale":{"domain":[0,6],"range":[890,688],"nice":false,"zero":false},"axis":{"orient":"left","offset":-313,"title":null,"zindex":1,"values":[1,2,3,4,5]}},"y2":{"datum":6}}},
 {"data":{"name":"insetB"},"mark":{"type":"line","color":"#268026","strokeWidth":1.5},"encoding":{"x":{"field":"t","type":"quantitative","scale":{"domain":[25,50],"range":[313,575],"nice":false,"zero":false},"axis":null},"y":{"field":"g","type":"quantitative","scale":{"domain":[0,6],"range":[890,688],"nice":false,"zero":false},"axis":null}}},
 {"data":{"name":"insetB"},"mark":{"type":"line","color":"#2626cc","strokeWidth":1.5},"encoding":{"x":{"field":"t","type":"quantitative","scale":{"domain":[25,50],"range":[313,575],"nice":false,"zero":false},"axis":null},"y":{"field":"b","type":"quantitative","scale":{"domain":[0,6],"range":[890,688],"nice":false,"zero":false},"axis":null}}},
 {"data":{"name":"insetB"},"mark":{"type":"line","color":"#e03a2f","strokeWidth":1.5},"encoding":{"x":{"field":"t","type":"quantitative","scale":{"domain":[25,50],"range":[313,575],"nice":false,"zero":false},"axis":{"orient":"top","offset":-688,"title":null,"zindex":1,"values":[30,35,40,45]}},"y":{"field":"r","type":"quantitative","scale":{"domain":[0,6],"range":[890,688],"nice":false,"zero":false},"axis":{"orient":"right","offset":-55,"title":null,"zindex":1,"values":[1,2,3,4,5]}}}}
],"resolve":{"axis":{"x":"independent","y":"independent"}}}
],
"resolve":{"scale":{"x":"independent","y":"independent"},"axis":{"x":"independent","y":"independent"}}
}
